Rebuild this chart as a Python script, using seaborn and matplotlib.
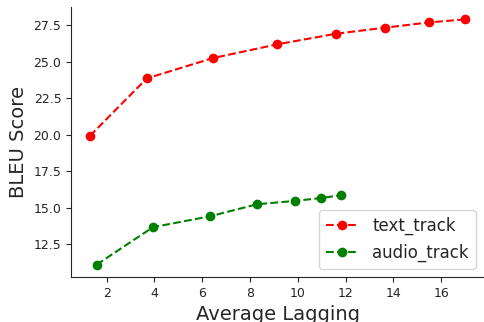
import seaborn as sns
import matplotlib.pyplot as plt

sns.set_style("ticks")

# values
text_lag = [1.30, 3.68, 6.44, 9.15, 11.62, 13.66, 15.50, 17.01]
text_bleu = [19.92, 23.86, 25.25, 26.20, 26.93, 27.34, 27.70, 27.91]
audio_lag = [1.58, 3.94, 6.34, 8.29, 9.87, 10.98, 11.81]
audio_bleu = [11.09, 13.66, 14.41, 15.23, 15.46, 15.66, 15.85]

fig = plt.figure(figsize=(4.84, 3.22), dpi=100)
ax = fig.add_axes([0.147, 0.14, 0.853, 0.838])

sns.lineplot(x=text_lag, y=text_bleu, ax=ax, color="red", linestyle="--",
             marker="o", markersize=7, markeredgewidth=0, linewidth=1.5,
             label="text_track")
sns.lineplot(x=audio_lag, y=audio_bleu, ax=ax, color="green", linestyle="--",
             marker="o", markersize=7, markeredgewidth=0, linewidth=1.5,
             label="audio_track")

ax.set_xticks([2, 4, 6, 8, 10, 12, 14, 16])
ax.set_yticks([12.5, 15.0, 17.5, 20.0, 22.5, 25.0, 27.5])
ax.tick_params(labelsize=9)
ax.set_xlabel("Average Lagging", fontsize=14)
ax.set_ylabel("BLEU Score", fontsize=14)
ax.legend(loc="lower right", fontsize=12)
sns.despine(ax=ax)

plt.savefig("out.png", dpi=100)
plt.close()
